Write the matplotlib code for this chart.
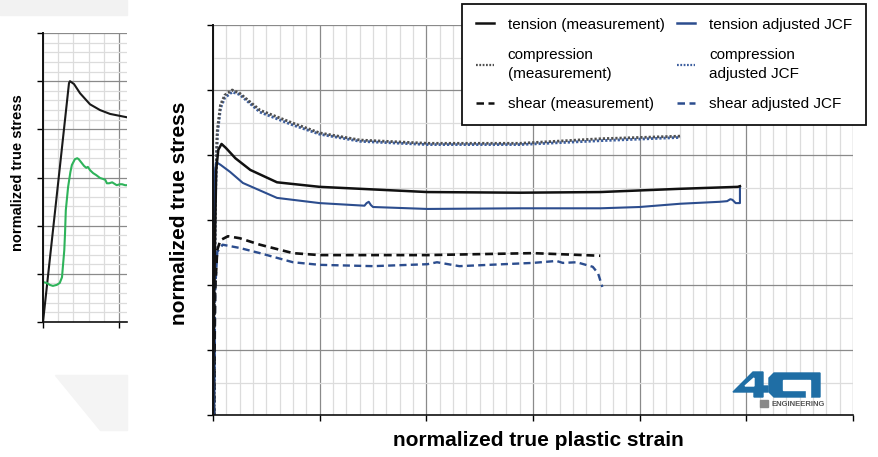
import matplotlib.pyplot as plt
from matplotlib.lines import Line2D
from matplotlib.patches import Polygon, Rectangle
from matplotlib.ticker import MultipleLocator
import matplotlib.transforms as mtransforms

plt.rcParams['font.family'] = ['Liberation Sans', 'DejaVu Sans']

# ---- main chart data (normalized units, 6 major divisions each axis) ----
tens_meas_x = [0, 0.01, 0.03, 0.05, 0.08, 0.12, 0.21, 0.35, 0.60, 1.00, 2.01, 2.88, 3.63, 4.38, 4.92, 4.94]
tens_meas_y = [0, 1.77, 3.77, 4.08, 4.17, 4.11, 3.95, 3.77, 3.58, 3.51, 3.43, 3.42, 3.43, 3.48, 3.51, 3.52]

tens_adj_x = [0.01, 0.01, 0.02, 0.03, 0.07, 0.16, 0.28, 0.60, 1.00, 1.42, 1.44, 1.46, 1.48, 1.50,
              2.01, 2.88, 3.63, 4.00, 4.38, 4.75, 4.82, 4.85, 4.87, 4.90, 4.93, 4.94, 4.94]
tens_adj_y = [0, 1.77, 3.77, 3.89, 3.85, 3.74, 3.57, 3.34, 3.26, 3.22, 3.26, 3.28, 3.23, 3.20,
              3.17, 3.18, 3.18, 3.20, 3.25, 3.28, 3.29, 3.32, 3.31, 3.26, 3.26, 3.26, 3.52]

comp_meas_x = [0.01, 0.02, 0.04, 0.07, 0.11, 0.18, 0.25, 0.44, 0.75, 1.00, 1.38, 2.01, 2.88, 3.63, 4.38]
comp_meas_y = [0, 3.31, 4.38, 4.77, 4.92, 5.00, 4.95, 4.69, 4.49, 4.34, 4.23, 4.18, 4.18, 4.25, 4.29]

comp_adj_x = [0.01, 0.02, 0.04, 0.07, 0.11, 0.18, 0.25, 0.44, 0.75, 1.00, 1.38, 2.01, 2.88, 3.63, 4.38]
comp_adj_y = [0, 3.20, 4.30, 4.72, 4.88, 4.97, 4.93, 4.66, 4.46, 4.32, 4.21, 4.16, 4.16, 4.22, 4.27]

shear_meas_x = [0.01, 0.02, 0.04, 0.07, 0.14, 0.25, 0.44, 0.75, 1.00, 2.01, 3.00, 3.63]
shear_meas_y = [0, 1.92, 2.54, 2.69, 2.75, 2.72, 2.62, 2.49, 2.46, 2.46, 2.49, 2.45]

shear_adj_x = [0.01, 0.02, 0.04, 0.09, 0.25, 0.44, 0.75, 1.00, 1.50, 2.01, 2.10, 2.31,
               3.00, 3.22, 3.28, 3.41, 3.56, 3.61, 3.65]
shear_adj_y = [0, 1.92, 2.51, 2.62, 2.57, 2.49, 2.35, 2.31, 2.29, 2.32, 2.35, 2.29,
               2.34, 2.37, 2.34, 2.35, 2.28, 2.18, 1.97]

# ---- inset data ----
ins_black_x = [0, 0.342, 0.355, 0.408, 0.487, 0.618, 0.75, 0.882, 1.105]
ins_black_y = [0, 4.96, 5.0, 4.94, 4.75, 4.52, 4.40, 4.32, 4.25]

ins_green_x = [0, 0.05, 0.09, 0.13, 0.18, 0.22, 0.25, 0.26, 0.28, 0.29, 0.30, 0.33, 0.36, 0.38,
               0.42, 0.45, 0.47, 0.50, 0.54, 0.57, 0.59, 0.62, 0.66, 0.70, 0.75, 0.79, 0.82,
               0.84, 0.87, 0.91, 0.95, 0.97, 1.01, 1.04, 1.08, 1.11]
ins_green_y = [0.83, 0.81, 0.77, 0.75, 0.77, 0.81, 0.93, 1.12, 1.49, 1.85, 2.32, 2.80, 3.11, 3.26,
               3.38, 3.40, 3.38, 3.32, 3.24, 3.20, 3.22, 3.15, 3.09, 3.05, 2.99, 2.97, 2.95,
               2.88, 2.88, 2.90, 2.86, 2.84, 2.86, 2.86, 2.84, 2.84]

labels = ['tension (measurement)', 'compression\n(measurement)', 'shear (measurement)',
          'tension adjusted JCF', 'compression\nadjusted JCF', 'shear adjusted JCF']

W, H = 879, 457
blue = '#2c4d8e'
logo_blue = '#1f6ea5'
fig = plt.figure(figsize=(W / 100, H / 100), dpi=100)
# pixel coords (from top-left) -> figure
px = mtransforms.Affine2D().scale(1 / W, -1 / H).translate(0, 1) + fig.transFigure

# faint background shapes
fig.patches.append(Rectangle((0, 0), 127, 15, transform=px, color='#f2f2f2', zorder=0))
fig.patches.append(Polygon([(55, 375), (127, 375), (127, 430), (100, 430)], closed=True,
                           transform=px, color='#f4f4f4', zorder=0))


def style_grid(ax, xmaj, xmin, ymaj, ymin):
    ax.xaxis.set_major_locator(MultipleLocator(xmaj))
    ax.xaxis.set_minor_locator(MultipleLocator(xmin))
    ax.yaxis.set_major_locator(MultipleLocator(ymaj))
    ax.yaxis.set_minor_locator(MultipleLocator(ymin))
    ax.grid(which='major', color='#8a8a8a', lw=0.9)
    ax.grid(which='minor', color='#dcdcdc', lw=0.9)
    ax.set_axisbelow(True)
    ax.spines['top'].set_visible(False)
    ax.spines['right'].set_visible(False)
    ax.spines['left'].set_color('#111111')
    ax.spines['bottom'].set_color('#111111')
    ax.spines['left'].set_linewidth(1.4)
    ax.spines['bottom'].set_linewidth(1.2)
    ax.tick_params(which='major', direction='out', length=4, width=1, labelleft=False, labelbottom=False)
    ax.tick_params(which='minor', length=0)


# ---- inset ----
ax2 = fig.add_axes([43 / W, 1 - 322 / H, 84 / W, 289 / H])
ax2.set_xlim(0, 1.105)
ax2.set_ylim(0, 6)
style_grid(ax2, 1, 0.2, 1, 0.2)
ax2.plot(ins_black_x, ins_black_y, color='#1a1a1a', lw=1.5)
ax2.plot(ins_green_x, ins_green_y, color='#2eb35a', lw=1.5)
fig.text(18 / W, 1 - 173 / H, 'normalized true stress', rotation=90, ha='center', va='center',
         fontsize=10.5, fontweight='bold')

# ---- main chart ----
ax = fig.add_axes([213 / W, 1 - 415 / H, 640 / W, 390 / H])
ax.set_xlim(0, 6)
ax.set_ylim(0, 6)
style_grid(ax, 1, 0.125, 1, 0.5)

ax.plot(comp_adj_x, comp_adj_y, color='#3d5f9f', lw=2.0, ls=(0, (0.8, 0.7)))
ax.plot(comp_meas_x, comp_meas_y, color='#505050', lw=2.0, ls=(0, (0.8, 0.7)))
ax.plot(shear_adj_x, shear_adj_y, color=blue, lw=1.7, ls=(0, (3, 1.8)))
ax.plot(shear_meas_x, shear_meas_y, color='#111111', lw=1.9, ls=(0, (3, 1.8)))
ax.plot(tens_adj_x, tens_adj_y, color=blue, lw=1.5)
ax.plot(tens_meas_x, tens_meas_y, color='#111111', lw=1.8)

fig.text(180 / W, 1 - 213 / H, 'normalized true stress', rotation=90, ha='center', va='center',
         fontsize=15, fontweight='bold')
fig.text(538 / W, 1 - 441 / H, 'normalized true plastic strain', ha='center', va='center',
         fontsize=15, fontweight='bold')

handles = [Line2D([], [], color='#111111', lw=1.8),
           Line2D([], [], color='#505050', lw=1.6, ls=(0, (0.8, 0.7))),
           Line2D([], [], color='#111111', lw=1.8, ls=(0, (3, 1.8))),
           Line2D([], [], color=blue, lw=1.8),
           Line2D([], [], color='#3d5f9f', lw=1.6, ls=(0, (0.8, 0.7))),
           Line2D([], [], color=blue, lw=1.8, ls=(0, (3, 1.8)))]
leg = fig.legend(handles, labels, ncol=2, loc='upper left', bbox_to_anchor=(462 / W, 1 - 4 / H),
                 borderaxespad=0, fontsize=11, frameon=True, fancybox=False, framealpha=1,
                 edgecolor='#111111', handlelength=1.2, handletextpad=0.9, columnspacing=0.8,
                 labelspacing=1.05, borderpad=0.9)
leg.get_frame().set_linewidth(1.3)
for t in leg.get_texts():
    t.set_linespacing(1.5)

# logo drawn as shapes, with its small caption as text
fig.patches.append(Polygon([(733, 392), (753, 372), (763, 372), (763, 386), (768, 386), (768, 392),
                            (763, 392), (763, 397), (754, 397), (754, 392)], closed=True,
                           transform=px, color=logo_blue, zorder=5))
fig.patches.append(Polygon([(745, 386), (754, 378), (754, 386)], closed=True,
                           transform=px, color='white', zorder=6))
fig.patches.append(Polygon([(774, 373), (820, 373), (820, 397), (774, 397), (769, 392), (769, 378)],
                           closed=True, transform=px, color=logo_blue, zorder=5))
fig.patches.append(Rectangle((783, 380), 23, 10, transform=px, color='white', zorder=6))
fig.patches.append(Rectangle((806, 380), 4, 17, transform=px, color='white', zorder=6))
fig.patches.append(Rectangle((760, 400), 8, 7, transform=px, color='#888888', zorder=5))
fig.text(772 / W, 1 - 404 / H, 'ENGINEERING', fontsize=5.5, fontweight='bold', color='#555555',
         ha='left', va='center')

fig.savefig('out.png', dpi=100)
